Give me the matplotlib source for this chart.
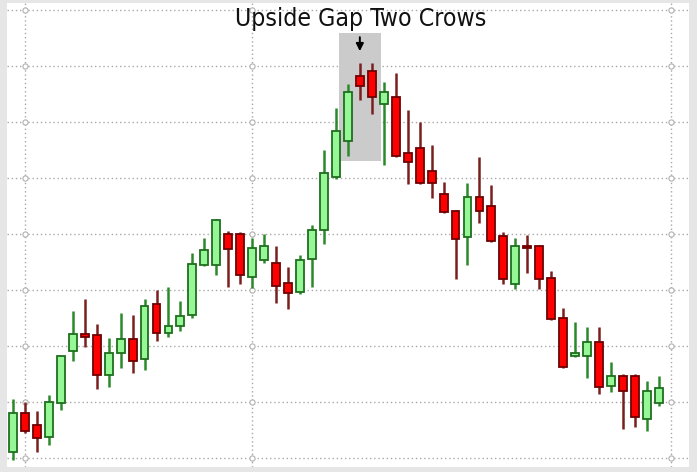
import numpy as np
import matplotlib
matplotlib.use("Agg")
import matplotlib.pyplot as plt
from matplotlib import font_manager

# daily OHLC
opens = [20.21, 21.61, 21.18, 20.75, 21.96, 23.82, 24.43, 24.39, 22.96, 23.75,
         24.25, 23.54, 25.50, 24.46, 24.71, 25.11, 26.89, 26.89, 28.00, 28.00,
         26.46, 27.07, 26.96, 26.25, 25.93, 27.11, 28.14, 30.04, 31.32, 33.64,
         33.82, 32.64, 32.89, 30.89, 31.07, 30.25, 29.43, 28.82, 27.89, 29.32,
         29.00, 27.93, 26.21, 27.57, 27.57, 26.43, 25.00, 23.64, 23.64, 24.14,
         22.57, 22.93, 22.93, 21.39, 21.96]
highs = [22.11, 22.00, 21.68, 22.25, 23.68, 25.25, 25.68, 24.79, 24.29, 25.18,
         25.11, 25.68, 26.00, 26.11, 25.61, 27.32, 27.86, 28.54, 28.11, 28.07,
         27.86, 28.00, 27.57, 26.82, 27.25, 28.32, 31.00, 32.50, 33.36, 34.11,
         34.11, 33.43, 33.75, 32.43, 32.00, 31.18, 29.86, 28.86, 29.82, 30.75,
         29.75, 28.07, 27.86, 27.96, 27.61, 26.68, 25.36, 24.86, 24.68, 24.68,
         23.43, 23.00, 23.00, 22.75, 22.93]
lows = [19.93, 20.89, 20.21, 20.46, 21.71, 23.46, 23.96, 22.46, 22.54, 23.21,
        23.04, 23.14, 24.18, 24.32, 24.54, 25.00, 26.86, 26.54, 26.11, 26.21,
        26.07, 26.96, 25.54, 25.32, 25.86, 26.11, 27.64, 29.96, 30.79, 32.79,
        32.29, 30.46, 30.75, 29.79, 29.79, 29.29, 28.75, 26.39, 26.89, 28.39,
        27.71, 26.21, 26.04, 26.61, 26.04, 24.93, 23.21, 23.61, 22.86, 22.29,
        22.36, 21.04, 21.11, 20.96, 21.86]
closes = [21.61, 20.96, 20.71, 22.00, 23.64, 24.43, 24.32, 22.96, 23.75, 24.25,
          23.46, 25.43, 24.46, 24.71, 25.07, 26.93, 27.43, 28.50, 27.46, 26.54,
          27.50, 27.57, 26.14, 25.89, 27.07, 28.14, 30.18, 31.68, 33.07, 33.29,
          32.89, 33.07, 30.79, 30.57, 29.82, 29.82, 28.79, 27.82, 29.32, 28.82,
          27.75, 26.39, 27.57, 27.50, 26.39, 24.96, 23.25, 23.75, 24.14, 22.54,
          22.93, 22.39, 21.46, 22.39, 22.50]

# the three bars of the pattern and where the date grid lines fall
pattern = [28, 29, 30]
date_lines = [1, 20, 55]
price_lines = np.arange(20, 37, 2)

o = np.array(opens)
h = np.array(highs)
l = np.array(lows)
c = np.array(closes)
x = np.arange(len(o))
up = c >= o

fig = plt.figure(figsize=(6.97, 4.72), dpi=100)
fig.patch.set_facecolor('#e6e6e6')
ax = fig.add_axes([7 / 697, 5 / 472, 682 / 697, 464 / 472])
ax.set_facecolor('white')

# dotted grid
grid_kw = dict(color='#a8a8a8', linewidth=1.0, linestyle=(0, (1, 2)), zorder=0)
for p in price_lines:
    ax.axhline(p, **grid_kw)
for d in date_lines:
    ax.axvline(d, **grid_kw)
gx, gy = np.meshgrid(date_lines, price_lines)
ax.scatter(gx.ravel(), gy.ravel(), s=14, facecolors='white', edgecolors='#b0b0b0',
           linewidths=0.8, zorder=1)

# highlight box around the pattern
box_lo = l[pattern].min() - 0.18
box_hi = h[pattern].max() + 1.07
ax.fill_between([pattern[0] - 0.75, pattern[-1] + 0.75], box_lo, box_hi,
                color='#cbcbcb', zorder=1, linewidth=0)
ax.annotate('', xy=(pattern[1], h[pattern[1]] + 0.42),
            xytext=(pattern[1], h[pattern[1]] + 0.92),
            arrowprops=dict(arrowstyle='-|>', color='black', lw=1.4,
                            mutation_scale=11, shrinkA=0, shrinkB=0), zorder=5)

# candles
wick_col = np.where(up, '#2a8a2a', '#7a1e1e')
ax.vlines(x, l, h, colors=wick_col, linewidth=1.8, zorder=2)
body_lo = np.minimum(o, c)
body_h = np.maximum(np.abs(c - o), 0.08)
ax.bar(x[up], body_h[up], bottom=body_lo[up], width=0.66,
       color='#96f796', edgecolor='#1f6e1f', linewidth=1.3, zorder=3)
ax.bar(x[~up], body_h[~up], bottom=body_lo[~up], width=0.66,
       color='#ff0000', edgecolor='#6e0000', linewidth=1.3, zorder=3)

ax.set_xlim(-0.5, 56.52)
ax.set_ylim(19.68, 36.25)
ax.set_xticks([])
ax.set_yticks([])
for s in ax.spines.values():
    s.set_visible(False)

# narrow title font if one is installed
names = {f.name: f for f in font_manager.fontManager.ttflist}
cond = [f for f in font_manager.fontManager.ttflist
        if f.name in ('DejaVu Sans', 'Liberation Sans Narrow')
        and f.stretch in ('condensed', 'semi-condensed') and f.style == 'normal']
if 'Liberation Sans Narrow' in names:
    tfont = dict(family='Liberation Sans Narrow')
elif cond:
    tfont = dict(family=cond[0].name, stretch=cond[0].stretch)
else:
    tfont = dict(family='DejaVu Sans')

title = ax.text(29.05, 36.12, 'Upside Gap Two Crows', ha='center', va='top',
                fontsize=19, color='#111111', zorder=6, **tfont)
# fit the title to the width it has in the picture
fig.canvas.draw()
w = title.get_window_extent().width
title.set_fontsize(19 * 251 / w)

fig.savefig('out.png', dpi=100, facecolor=fig.get_facecolor())
